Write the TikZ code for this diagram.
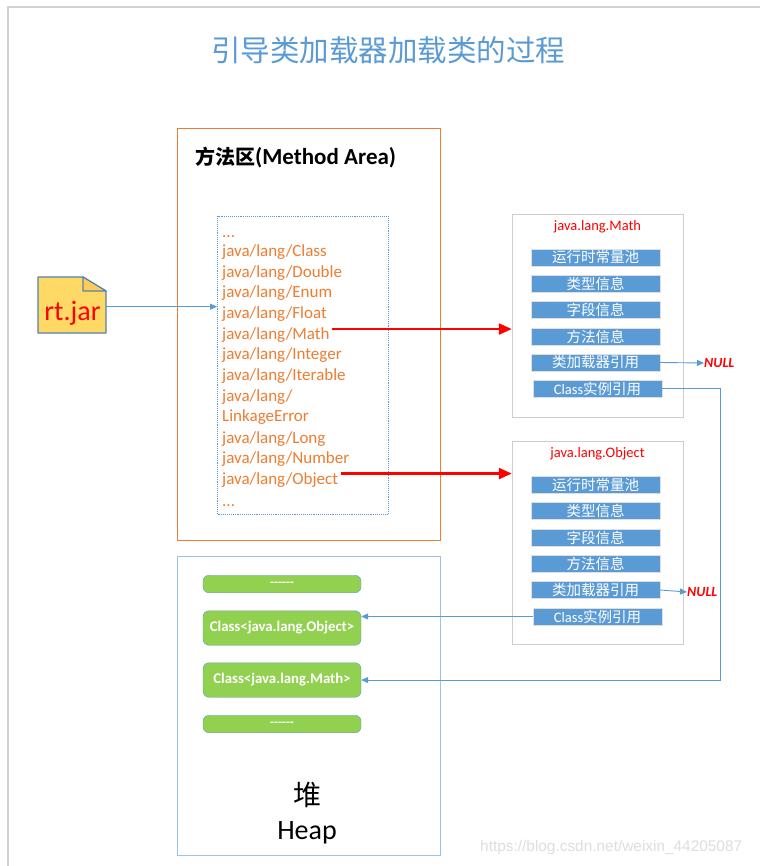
\documentclass[tikz,border=0pt]{standalone}
\usepackage{fontspec}
\setmainfont{Carlito}
\newfontfamily\cjk{Noto Sans CJK SC}
\newfontfamily\wmfont{Liberation Sans}
\usetikzlibrary{arrows.meta}
\definecolor{tblue}{RGB}{91,155,213}
\definecolor{orng}{RGB}{237,125,49}
\definecolor{grn}{RGB}{146,208,80}
\definecolor{jarfill}{RGB}{255,217,102}
\definecolor{jarline}{RGB}{84,130,175}
\definecolor{boxgray}{RGB}{205,205,205}
\definecolor{heapline}{RGB}{157,195,230}
\definecolor{nullred}{RGB}{255,0,0}
\begin{document}
\begin{tikzpicture}[x=1pt,y=-1pt,
  lst/.style={anchor=base west, text=orng, inner sep=0, font=\fontsize{17}{18}\selectfont},
  bar/.style={draw=white!75!gray, fill=tblue, minimum width=129pt, minimum height=17pt, inner sep=0, text=white, font=\fontsize{14.5}{14.5}\selectfont},
  clsbox/.style={draw=boxgray, fill=white, minimum width=171pt, minimum height=203pt, inner sep=0},
  clstitle/.style={text=nullred, inner sep=0, font=\fontsize{14.5}{15}\selectfont},
  nulltxt/.style={anchor=west, text=nullred, inner sep=0, font=\fontsize{14}{14}\selectfont\bfseries\itshape},
  gbox/.style={draw=tblue, fill=grn, rounded corners=6pt, minimum width=158pt, inner sep=0, text=white, font=\fontsize{14.8}{15}\selectfont\bfseries},
  blu/.style={draw=tblue, line width=0.9pt, -{Triangle[length=7pt,width=6pt]}},
  redarr/.style={draw=red, line width=2.4pt, -{Triangle[length=13pt,width=11pt]}}
]
\useasboundingbox (0,0) rectangle (760,866);
\fill[white] (0,0) rectangle (760,866);
% outer frame
\draw[black!18, line width=2pt] (8,866) -- (8,7) -- (760,7);

% title
\node[text=tblue, inner sep=0, font=\cjk\fontsize{29.5}{30}\selectfont] (title) at (388,50) {引导类加载器加载类的过程};

% method area
\node[draw=orng, line width=1pt, minimum width=263pt, minimum height=411pt, inner sep=0] (mbox) at (308.5,334.5) {};
\node[anchor=west, inner sep=0, font=\bfseries] (mtitle) at (195,158) {{\cjk\fontsize{20}{22}\selectfont 方法区}{\fontsize{23}{24}\selectfont(Method Area)}};
\node[draw=tblue, densely dotted, line width=0.9pt, minimum width=170.5pt, minimum height=297.5pt, inner sep=0] (dotbox) at (302.75,365.25) {};

\node[lst] (l0) at (222,238) {...};
\node[lst] (l1) at (222,257) {java/lang/Class};
\node[lst] (l2) at (222,277.5) {java/lang/Double};
\node[lst] (l3) at (222,298) {java/lang/Enum};
\node[lst] (l4) at (222,318.5) {java/lang/Float};
\node[lst] (l5) at (222,339) {java/lang/Math};
\node[lst] (l6) at (222,359.5) {java/lang/Integer};
\node[lst] (l7) at (222,380) {java/lang/Iterable};
\node[lst] (l8) at (222,401) {java/lang/};
\node[lst] (l9) at (222,421.5) {LinkageError};
\node[lst] (l10) at (222,443) {java/lang/Long};
\node[lst] (l11) at (222,463) {java/lang/Number};
\node[lst] (l12) at (222,484) {java/lang/Object};
\node[lst] (l13) at (222,506) {...};

% rt.jar
\draw[fill=jarfill, draw=jarline, line width=1.3pt, line join=round] (38,277) -- (83,277) -- (106,291) -- (106,333) -- (38,333) -- cycle;
\draw[fill=jarfill!85!orange, draw=jarline, line width=1.1pt, line join=round] (83,277) -- (83,291) -- (106,291) -- cycle;
\node[text=nullred, inner sep=0, font=\fontsize{28}{30}\selectfont] (rt) at (72.5,313) {rt.jar};
\coordinate (rtr) at (106,306.7);
\draw[blu] (rtr) -- (rtr -| dotbox.west);

% java.lang.Math
\node[clsbox] (mathbox) at (597.5,316) {};
\node[clstitle] (mtl) at (597.5,227) {java.lang.Math};
\node[bar] (m1) at (595.5,257.5) {\cjk 运行时常量池};
\node[bar] (m2) at (595.5,283.5) {\cjk 类型信息};
\node[bar] (m3) at (595.5,310) {\cjk 字段信息};
\node[bar] (m4) at (595.5,336.5) {\cjk 方法信息};
\node[bar] (m5) at (595.5,362.5) {\cjk 类加载器引用};
\node[bar] (m6) at (597.5,388.5) {Class{\cjk 实例引用}};
\node[nulltxt] (mnull) at (704,363) {NULL};
\draw[blu] (m5.east) -- (mnull.west);

% java.lang.Object
\node[clsbox] (objbox) at (597.5,543) {};
\node[clstitle] (otl) at (597.5,454) {java.lang.Object};
\node[bar] (o1) at (595.5,485) {\cjk 运行时常量池};
\node[bar] (o2) at (595.5,511) {\cjk 类型信息};
\node[bar] (o3) at (595.5,537.5) {\cjk 字段信息};
\node[bar] (o4) at (595.5,563.5) {\cjk 方法信息};
\node[bar] (o5) at (595.5,590) {\cjk 类加载器引用};
\node[bar] (o6) at (597.5,616.5) {Class{\cjk 实例引用}};
\node[nulltxt] (onull) at (687,592) {NULL};
\draw[blu] (o5.east) -- (onull.west);

% red arrows
\coordinate (ma) at ([xshift=2pt,yshift=5.5pt]l5.east);
\draw[redarr] (ma) -- (ma -| mathbox.west);
\coordinate (oa) at ([xshift=3pt,yshift=6pt]l12.east);
\draw[redarr] (oa) -- (oa -| objbox.west);

% heap
\node[draw=heapline, line width=0.9pt, minimum width=263pt, minimum height=299pt, inner sep=0] (heap) at (308.5,705.5) {};
\node[gbox, minimum height=17.5pt, font=\fontsize{13}{13}\selectfont\bfseries] (g1) at (282,584) {{-}{-}{-}{-}{-}{-}};
\node[gbox, minimum height=34.5pt] (gobj) at (282,628) {Class<java.lang.Object>};
\node[gbox, minimum height=34.5pt] (gmath) at (282,680) {Class<java.lang.Math>};
\node[gbox, minimum height=17.5pt, font=\fontsize{13}{13}\selectfont\bfseries] (g4) at (282,724) {{-}{-}{-}{-}{-}{-}};
\node[inner sep=0, font=\cjk\fontsize{28}{30}\selectfont] (dui) at (307,795) {堆};
\node[inner sep=0, font=\fontsize{28}{30}\selectfont] (heapt) at (307,833) {Heap};

% class instance references
\draw[blu] (o6.west) -- (o6.west -| gobj.east);
\draw[blu] (m6.east) -- ++(58,0) |- (gmath.east);

% watermark
\node[anchor=west, inner sep=0, text=black!13, font=\wmfont\fontsize{15.4}{16}\selectfont] (wm) at (480,848) {https://blog.csdn.net/weixin\_44205087};
\end{tikzpicture}
\end{document}
